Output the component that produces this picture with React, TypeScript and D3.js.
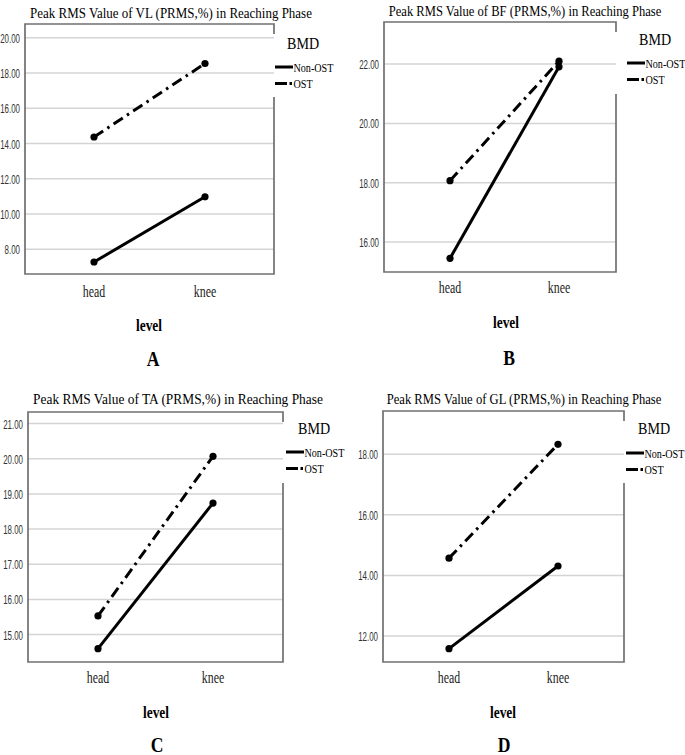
import React, { useEffect, useRef } from "react";
import * as d3 from "d3";

// categories / series
const levels = ["head", "knee"];
const groups = ["Non-OST", "OST"];

const vlNonOst = [7.28, 10.98];
const vlOst = [14.37, 18.54];
const bfNonOst = [15.45, 21.91];
const bfOst = [18.07, 22.1];
const taNonOst = [14.6, 18.74];
const taOst = [15.53, 20.07];
const glNonOst = [11.58, 14.31];
const glOst = [14.57, 18.33];

const vlTicks = [8, 10, 12, 14, 16, 18, 20];
const bfTicks = [16, 18, 20, 22];
const taTicks = [15, 16, 17, 18, 19, 20, 21];
const glTicks = [12, 14, 16, 18];

const titles = [
  "Peak RMS Value of VL (PRMS,%) in Reaching Phase",
  "Peak RMS Value of BF (PRMS,%) in Reaching Phase",
  "Peak RMS Value of TA (PRMS,%) in Reaching Phase",
  "Peak RMS Value of GL (PRMS,%) in Reaching Phase",
];
const panelLetters = ["A", "B", "C", "D"];

// layout for each panel (pixels)
const panels = [
  {
    nonOst: vlNonOst, ost: vlOst, ticks: vlTicks, yDomain: [6.6, 20.78],
    x0: 25, x1: 274, y0: 24, y1: 274, xr: [94, 205], titleX: 171, titleY: 18, titleW: 282,
    legX: 275, bmdY: 49, legY: 67, brGap: [34, 97], catY: 297, levelX: 149, levelY: 331, letterX: 153, letterY: 366,
  },
  {
    nonOst: bfNonOst, ost: bfOst, ticks: bfTicks, yDomain: [14.99, 23.42],
    x0: 384, x1: 616, y0: 22, y1: 272, xr: [450, 559], titleX: 525, titleY: 16, titleW: 273,
    legX: 627, bmdY: 45, legY: 63, brGap: [32, 94], catY: 293, levelX: 506, levelY: 328, letterX: 509, letterY: 365,
  },
  {
    nonOst: taNonOst, ost: taOst, ticks: taTicks, yDomain: [14.22, 21.33],
    x0: 28, x1: 283, y0: 412, y1: 662, xr: [98, 213], titleX: 178, titleY: 404, titleW: 290,
    legX: 286, bmdY: 434, legY: 452, brGap: [422, 483], catY: 683, levelX: 156, levelY: 718, letterX: 157, letterY: 752,
  },
  {
    nonOst: glNonOst, ost: glOst, ticks: glTicks, yDomain: [11.14, 19.43],
    x0: 383, x1: 624, y0: 411, y1: 662, xr: [449, 558], titleX: 524, titleY: 404, titleW: 275,
    legX: 626, bmdY: 434, legY: 453, brGap: [421, 483], catY: 683, levelX: 503, levelY: 718, letterX: 504, letterY: 752,
  },
];

const serif = "'Liberation Serif', 'Times New Roman', serif";
const sans = "'Liberation Sans', Arial, sans-serif";

// text squeezed horizontally, like the scanned figure
function squeezed(g, x, y, str, size, sx, opts = {}) {
  return g
    .append("text")
    .attr("transform", `translate(${x},${y}) scale(${sx},1)`)
    .attr("text-anchor", opts.anchor || "start")
    .attr("font-family", opts.family || serif)
    .attr("font-weight", opts.weight || "normal")
    .attr("font-size", size)
    .attr("fill", opts.fill || "#000")
    .text(str);
}

export default function App() {
  const svgRef = useRef(null);

  useEffect(() => {
    const svg = d3.select(svgRef.current);
    svg.selectAll("*").remove();
    svg.append("rect").attr("width", 685).attr("height", 755).attr("fill", "#fff");

    panels.forEach((p, i) => {
      const g = svg.append("g");
      const x = d3.scalePoint().domain(levels).range(p.xr);
      const y = d3.scaleLinear().domain(p.yDomain).range([p.y1, p.y0]);

      // gridlines
      g.selectAll(".grid")
        .data(p.ticks)
        .join("line")
        .attr("x1", p.x0)
        .attr("x2", p.x1)
        .attr("y1", (d) => y(d))
        .attr("y2", (d) => y(d))
        .attr("stroke", "#d4d4d4")
        .attr("stroke-width", 1.5);

      // tick labels
      p.ticks.forEach((t) => {
        squeezed(g, p.x0 - 5, y(t) + 5, d3.format(".2f")(t), 12, 0.66, {
          anchor: "end",
          family: sans,
          fill: "#333",
        });
      });

      // frame (right edge broken where legend sits)
      g.append("path")
        .attr(
          "d",
          `M${p.x1},${p.brGap[0]}V${p.y0}H${p.x0}V${p.y1}H${p.x1}V${p.brGap[1]}`
        )
        .attr("fill", "none")
        .attr("stroke", "#707070")
        .attr("stroke-width", 1.7);

      // category labels
      levels.forEach((c) => {
        squeezed(g, x(c), p.catY, c, 16.5, 0.72, { anchor: "middle", fill: "#222" });
      });

      // lines
      const series = [p.nonOst, p.ost];
      const line = d3
        .line()
        .x((d, j) => x(levels[j]))
        .y((d) => y(d));
      series.forEach((vals, k) => {
        g.append("path")
          .attr("d", line(vals))
          .attr("fill", "none")
          .attr("stroke", "#000")
          .attr("stroke-width", 3)
          .attr("stroke-dasharray", k === 1 ? "11,5,2.5,5" : null);
        g.selectAll(".pt" + k)
          .data(vals)
          .join("circle")
          .attr("cx", (d, j) => x(levels[j]))
          .attr("cy", (d) => y(d))
          .attr("r", 3.6)
          .attr("fill", "#000");
      });

      // title, squeezed to the width it has in the figure
      const title = squeezed(g, p.titleX, p.titleY, titles[i], 15, 1, { anchor: "middle" });
      const natural = title.node().getComputedTextLength() || p.titleW;
      title.attr("transform", `translate(${p.titleX},${p.titleY}) scale(${p.titleW / natural},1)`);

      // legend
      squeezed(g, p.legX + 12, p.bmdY, "BMD", 16, 0.88);
      groups.forEach((name, k) => {
        const ly = p.legY + k * 16.5;
        g.append("line")
          .attr("x1", p.legX)
          .attr("x2", p.legX + 18)
          .attr("y1", ly)
          .attr("y2", ly)
          .attr("stroke", "#000")
          .attr("stroke-width", 3)
          .attr("stroke-dasharray", k === 1 ? "12,2.5,2.5,20" : null);
        squeezed(g, p.legX + 18.5, ly + 4.5, name, 13, 0.78);
      });

      // axis title and panel letter
      squeezed(g, p.levelX, p.levelY, "level", 17, 0.79, { anchor: "middle", weight: "bold" });
      squeezed(g, p.letterX, p.letterY, panelLetters[i], 20, 0.88, { anchor: "middle", weight: "bold" });
    });
  }, []);

  return (
    <svg
      ref={svgRef}
      width={685}
      height={755}
      style={{ position: "absolute", left: 0, top: 0 }}
    ></svg>
  );
}
